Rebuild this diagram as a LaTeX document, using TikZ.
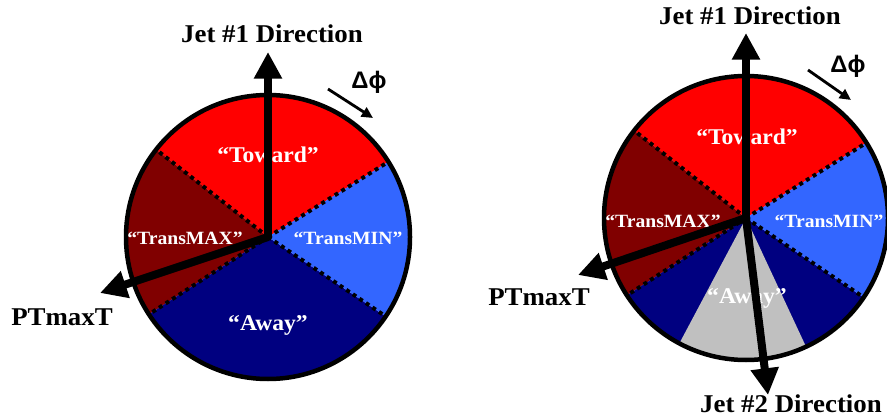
\documentclass[tikz,border=0pt]{standalone}
\usepackage{fontspec}
\setmainfont{Liberation Serif}[FakeStretch=1.05]
\newfontfamily\greekfont{Liberation Sans}
\usetikzlibrary{arrows.meta}

\definecolor{towardred}{RGB}{255,0,0}
\definecolor{maxred}{RGB}{128,0,0}
\definecolor{awayblue}{RGB}{0,0,128}
\definecolor{minblue}{RGB}{51,102,255}
\definecolor{jetgrey}{RGB}{192,192,192}

\begin{document}
\begin{tikzpicture}[
    rim/.style={draw=black, line width=3.2pt},
    seam/.style={line width=2.8pt, dash pattern=on 2.8pt off 2.8pt},
    jetarrow/.style={line width=5.7pt, -{Triangle[length=19pt,width=19pt]}},
    phiarrow/.style={line width=2pt, -{Triangle[length=8pt,width=7.5pt]}},
    region/.style={text=white, anchor=base, font=\bfseries\fontsize{16}{19}\selectfont},
    transregion/.style={region, font=\bfseries\fontsize{13.3}{16}\selectfont},
    heading/.style={anchor=base, inner sep=0pt, font=\bfseries\fontsize{18.2}{21}\selectfont},
    phitext/.style={font=\greekfont\bfseries\fontsize{17}{20}\selectfont}]
    \useasboundingbox (0,0) rectangle (22.175,10.475);
    %%% left wheel: one jet
    \coordinate (c1) at (6.7,4.55);
    \fill[towardred] (c1) -- ++(32:3.55) arc (32:142:3.55) -- cycle;
    \fill[maxred] (c1) -- ++(142:3.55) arc (142:213:3.55) -- cycle;
    \fill[awayblue] (c1) -- ++(213:3.55) arc (213:326:3.55) -- cycle;
    \fill[minblue] (c1) -- ++(-34:3.55) arc (-34:32:3.55) -- cycle;
    \foreach \a in {32,142,213,326}
        \draw[seam] (c1) -- ++(\a:3.55);
    \draw[rim] (c1) circle (3.55);
    \node(towardL) at (6.7,6.4) [region]{“Toward”};
    \node(maxL) at (4.625,4.35) [transregion]{“TransMAX”};
    \node(minL) at (8.7,4.35) [transregion]{“TransMIN”};
    \node(awayL) at (6.7,2.225) [region]{“Away”};
    \coordinate (jetL) at (6.7,9.175);
    \coordinate (ptL) at (2.5,3.15);
    \draw[jetarrow] (c1) -- (jetL);
    \draw[jetarrow] (c1) -- (ptL);
    \node(jettextL) at (6.8,9.4) [heading]{Jet \#1 Direction};
    \node(pttextL) at (1.55,2.35) [heading]{PTmaxT};
    \coordinate (phiaL) at (8.2,8.25);
    \coordinate (phibL) at (9.325,7.525);
    \draw[phiarrow] (phiaL) -- (phibL);
    \node(phiL) at (9.225,8.425) [phitext]{Δϕ};
    %%% right wheel: two jets
    \coordinate (c2) at (18.65,5.025);
    \fill[towardred] (c2) -- ++(32:3.55) arc (32:142:3.55) -- cycle;
    \fill[maxred] (c2) -- ++(142:3.55) arc (142:213:3.55) -- cycle;
    \fill[awayblue] (c2) -- ++(213:3.55) arc (213:326:3.55) -- cycle;
    \fill[jetgrey] (c2) -- ++(242:3.55) arc (242:295:3.55) -- cycle;
    \fill[minblue] (c2) -- ++(-34:3.55) arc (-34:32:3.55) -- cycle;
    \foreach \a in {32,142,213,326}
        \draw[seam] (c2) -- ++(\a:3.55);
    \draw[rim] (c2) circle (3.55);
    \node(towardR) at (18.675,6.85) [region]{“Toward”};
    \node(maxR) at (16.575,4.775) [transregion]{“TransMAX”};
    \node(minR) at (20.725,4.775) [transregion]{“TransMIN”};
    \node(awayR) at (18.675,2.9) [region]{“Away”};
    \coordinate (jetR) at (18.65,9.65);
    \coordinate (jettwoR) at (19.2,0.6);
    \coordinate (ptR) at (14.45,3.6);
    \draw[jetarrow] (c2) -- (jetR);
    \draw[jetarrow] (c2) -- (jettwoR);
    \draw[jetarrow] (c2) -- (ptR);
    \node(jettextR) at (18.75,9.85) [heading]{Jet \#1 Direction};
    \node(jettwotextR) at (19.775,0.175) [heading]{Jet \#2 Direction};
    \node(pttextR) at (13.475,2.85) [heading]{PTmaxT};
    \coordinate (phiaR) at (20.2,8.725);
    \coordinate (phibR) at (21.275,7.975);
    \draw[phiarrow] (phiaR) -- (phibR);
    \node(phiR) at (21.2,8.825) [phitext]{Δϕ};
\end{tikzpicture}
\end{document}
